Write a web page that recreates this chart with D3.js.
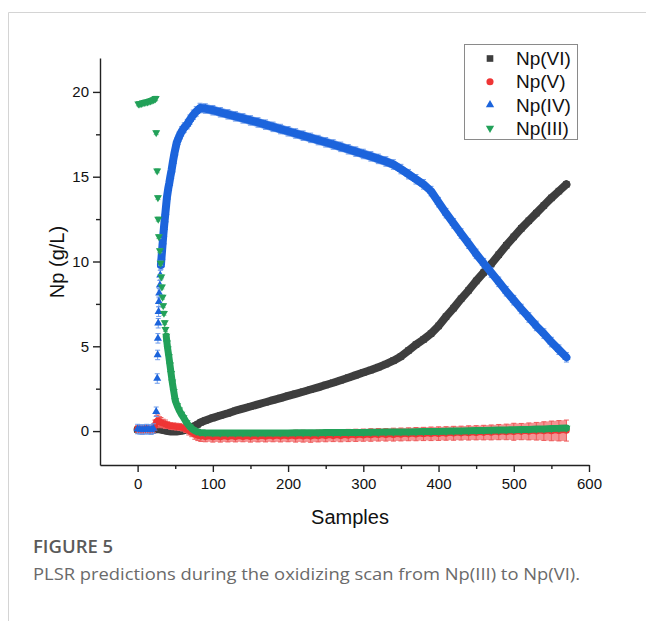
<!DOCTYPE html>
<html>
<head>
<meta charset="utf-8">
<script src="https://cdn.jsdelivr.net/npm/d3@7"></script>
<style>
  body { margin: 0; background: #fff; }
  svg { display: block; }
</style>
</head>
<body>
<svg id="fig" width="646" height="621"></svg>
<script>
// ---------------- data ----------------
const seriesNames = ["Np(VI)", "Np(V)", "Np(IV)", "Np(III)"];
const xTicks = [0, 100, 200, 300, 400, 500, 600];
const xMinorTicks = [50, 150, 250, 350, 450, 550];
const yTicks = [0, 5, 10, 15, 20];
const yMinorTicks = [2.5, 7.5, 12.5, 17.5];

// regular part of the scan (samples 90 .. 570)
const gridSamples = [90, 100, 110, 120, 130, 140, 150, 160, 170, 180,
  190, 200, 210, 220, 230, 240, 250, 260, 270, 280,
  290, 300, 310, 320, 330, 340, 350, 360, 370, 380,
  390, 400, 410, 420, 430, 440, 450, 460, 470, 480,
  490, 500, 510, 520, 530, 540, 550, 560, 570];

// Np(VI)
const viEarlyX = [0, 4, 8, 12, 16, 20, 24, 28, 32, 36, 40, 44, 48, 52, 56, 60, 64, 68, 72, 76, 80, 84];
const viEarlyY = [0.08, 0.1, 0.1, 0.08, 0.06, 0.05, 0.1, 0.12, 0.08, 0.04, 0.0, -0.02, -0.03, -0.02, 0.0, 0.03, 0.08, 0.15, 0.22, 0.3, 0.4, 0.52];
const viGridY = [0.62, 0.78, 0.92, 1.05, 1.2, 1.32, 1.45, 1.58, 1.7, 1.83,
  1.95, 2.08, 2.2, 2.32, 2.45, 2.58, 2.72, 2.85, 3.0, 3.15,
  3.3, 3.45, 3.6, 3.77, 3.95, 4.15, 4.4, 4.75, 5.1, 5.4,
  5.75, 6.2, 6.75, 7.25, 7.8, 8.3, 8.85, 9.35, 9.85, 10.4,
  10.95, 11.45, 11.95, 12.4, 12.85, 13.3, 13.75, 14.15, 14.55];
const viErr = 0.12;

// Np(V)
const vEarlyX = [0, 3, 6, 9, 12, 15, 18, 21, 23, 25, 27, 29, 31, 34, 37, 40, 44, 48, 52, 56, 60, 64, 68, 72, 76, 80, 84];
const vEarlyY = [0.12, 0.1, 0.08, 0.1, 0.12, 0.1, 0.08, 0.15, 0.35, 0.55, 0.6, 0.55, 0.5, 0.45, 0.4, 0.35, 0.3, 0.28, 0.26, 0.24, 0.2, 0.12, 0.02, -0.08, -0.18, -0.26, -0.31];
const vEarlyErr = [0.2, 0.2, 0.2, 0.2, 0.2, 0.2, 0.2, 0.25, 0.3, 0.35, 0.35, 0.3, 0.3, 0.25, 0.25, 0.2, 0.2, 0.2, 0.2, 0.2, 0.2, 0.2, 0.25, 0.25, 0.3, 0.3, 0.3];
const vGridY = [-0.33, -0.35, -0.35, -0.34, -0.34, -0.33, -0.33, -0.32, -0.32, -0.31,
  -0.31, -0.3, -0.3, -0.3, -0.31, -0.29, -0.28, -0.27, -0.27, -0.26,
  -0.25, -0.24, -0.23, -0.22, -0.22, -0.21, -0.2, -0.19, -0.18, -0.17,
  -0.16, -0.15, -0.14, -0.13, -0.12, -0.11, -0.1, -0.09, -0.08, -0.06,
  -0.05, -0.04, -0.03, -0.02, -0.01, 0.0, 0.01, 0.02, 0.03];
const vGridErr = [0.3, 0.3, 0.3, 0.3, 0.3, 0.3, 0.32, 0.32, 0.32, 0.32,
  0.33, 0.33, 0.35, 0.35, 0.35, 0.35, 0.35, 0.35, 0.36, 0.36,
  0.36, 0.36, 0.37, 0.37, 0.37, 0.38, 0.38, 0.38, 0.39, 0.39,
  0.4, 0.4, 0.4, 0.41, 0.41, 0.42, 0.42, 0.43, 0.44, 0.45,
  0.46, 0.5, 0.48, 0.5, 0.52, 0.55, 0.58, 0.6, 0.62];

// Np(IV)
const ivEarlyX = [0, 3, 6, 9, 12, 15, 18, 21,
  24.7, 26.1, 26.6, 27.0, 27.4, 27.9, 28.3, 28.7, 29.6, 30.1, 31.0,
  31.8, 32.6, 33.4, 34.2, 35, 36, 37, 38, 39,
  40.7, 42, 43.5, 45.2, 47, 49, 51.9, 55, 58.5, 62, 66, 69.5, 74, 78, 83];
const ivEarlyY = [0.12, 0.1, 0.08, 0.1, 0.12, 0.1, 0.08, 0.15,
  1.14, 3.1, 4.49, 5.47, 6.36, 7.04, 7.63, 8.13, 8.6, 9.2, 9.8,
  10.25, 10.7, 11.15, 11.6, 12.0, 12.45, 12.9, 13.35, 13.8,
  14.3, 14.6, 15.0, 15.4, 15.9, 16.4, 17.0, 17.35, 17.67, 17.9, 18.1, 18.36, 18.65, 18.85, 19.05];
const ivGridY = [19.02, 18.92, 18.8, 18.68, 18.56, 18.44, 18.32, 18.2, 18.07, 17.94,
  17.81, 17.68, 17.55, 17.42, 17.29, 17.16, 17.03, 16.9, 16.76, 16.62,
  16.48, 16.34, 16.2, 16.05, 15.9, 15.72, 15.45, 15.15, 14.85, 14.55,
  14.15, 13.5, 12.85, 12.25, 11.65, 11.05, 10.45, 9.9, 9.35, 8.8,
  8.25, 7.72, 7.2, 6.7, 6.2, 5.75, 5.25, 4.8, 4.35];
const ivErr = 0.28;

// Np(III)
const iiiEarlyX = [1, 3, 5, 7, 9, 11, 13, 15, 17, 19, 21, 23, 24,
  24.7, 26, 27, 27.4, 28.3, 29.6, 30.6, 31.5, 32.3, 33.2, 34, 35, 36, 37, 38, 39, 40,
  41.5, 43, 44.5, 46, 48, 50, 52.5, 55, 58, 61, 65, 69.5, 74, 78, 83];
const iiiEarlyY = [19.3, 19.3, 19.33, 19.35, 19.38, 19.4, 19.42, 19.45, 19.48, 19.5, 19.55, 19.58, 19.62,
  17.6, 15.35, 13.77, 12.5, 11.47, 10.64, 9.9, 9.1, 8.5, 7.9, 7.4, 6.95, 6.4, 6.0, 5.6, 5.2, 4.85,
  4.4, 3.9, 3.4, 2.9, 2.35, 1.8, 1.5, 1.25, 1.0, 0.8, 0.5, 0.25, 0.08, -0.02, -0.08];
const iiiGridY = [-0.1, -0.11, -0.12, -0.12, -0.12, -0.12, -0.12, -0.12, -0.11, -0.11,
  -0.11, -0.11, -0.1, -0.1, -0.1, -0.1, -0.09, -0.09, -0.09, -0.08,
  -0.08, -0.08, -0.07, -0.07, -0.06, -0.06, -0.05, -0.05, -0.04, -0.03,
  -0.03, -0.02, -0.01, 0.0, 0.01, 0.02, 0.03, 0.04, 0.05, 0.06,
  0.07, 0.08, 0.09, 0.1, 0.12, 0.13, 0.15, 0.16, 0.18];
const iiiErr = 0.12;

// ---------------- build series table ----------------
function constArr(n, v) { return Array.from({ length: n }, () => v); }

const series = [
  { name: seriesNames[0], x: viEarlyX.concat(gridSamples), y: viEarlyY.concat(viGridY),
    err: constArr(viEarlyX.length + gridSamples.length, viErr),
    color: "#3e3e3e", errColor: "#8c8c8c", errFill: "#9a9a9a", shape: "square", bandFrom: 0, band: 8 },
  { name: seriesNames[1], x: vEarlyX.concat(gridSamples), y: vEarlyY.concat(vGridY),
    err: vEarlyErr.concat(vGridErr),
    color: "#ef3535", errColor: "#ee5a5a", errFill: "#f59393", shape: "circle", bandFrom: 0, band: 5 },
  { name: seriesNames[2], x: ivEarlyX.concat(gridSamples), y: ivEarlyY.concat(ivGridY),
    err: constArr(ivEarlyX.length + gridSamples.length, ivErr),
    color: "#1c64dc", errColor: "#6f9cea", errFill: "#7ea7ee", shape: "triUp", bandFrom: 31, band: 8 },
  { name: seriesNames[3], x: iiiEarlyX.concat(gridSamples), y: iiiEarlyY.concat(iiiGridY),
    err: constArr(iiiEarlyX.length + gridSamples.length, iiiErr),
    color: "#22a159", errColor: "#74c596", errFill: "#8fd0aa", shape: "triDown", bandFrom: 38, band: 7 }
];

// ---------------- drawing ----------------
const svg = d3.select("#fig");
const FONT = "'Liberation Sans', Arial, sans-serif";
const CAPTION_FONT = "'Open Sans', 'Noto Sans', sans-serif";

// page frame
svg.append("path")
  .attr("d", "M8.5,621 V12.5 H646")
  .attr("fill", "none").attr("stroke", "#d4d4d4").attr("stroke-width", 1);

const x = d3.scaleLinear().domain([-50, 600]).range([100, 589]);
const y = d3.scaleLinear().domain([-2, 22]).range([465, 58]);

const symbols = {
  square: d3.symbol().type(d3.symbolSquare).size(42),
  circle: d3.symbol().type(d3.symbolCircle).size(34),
  triUp: d3.symbol().type(d3.symbolTriangle).size(28),
  triDown: d3.symbol().type(d3.symbolTriangle).size(28)
};

const plot = svg.append("g");

series.forEach(s => {
  const pts = s.x.map((v, i) => ({ x: v, y: s.y[i], e: s.err[i] }));
  const bandPts = pts.filter(p => p.x >= s.bandFrom);
  const g = plot.append("g");

  // spread of the dense run (overlapping error bars)
  g.append("path")
    .datum(bandPts)
    .attr("d", d3.area().x(p => x(p.x)).y0(p => y(p.y - p.e)).y1(p => y(p.y + p.e)))
    .attr("fill", s.errFill)
    .attr("stroke", "none");

  // error bars
  const eb = g.append("g").attr("stroke", s.errColor).attr("stroke-width", 1);
  pts.forEach(p => {
    const cx = x(p.x), y0 = y(p.y - p.e), y1 = y(p.y + p.e);
    eb.append("line").attr("x1", cx).attr("x2", cx).attr("y1", y0).attr("y2", y1);
    eb.append("line").attr("x1", cx - 2.5).attr("x2", cx + 2.5).attr("y1", y0).attr("y2", y0);
    eb.append("line").attr("x1", cx - 2.5).attr("x2", cx + 2.5).attr("y1", y1).attr("y2", y1);
  });

  // dense run of samples shown as a continuous band
  g.append("path")
    .datum(bandPts)
    .attr("d", d3.line().x(p => x(p.x)).y(p => y(p.y)))
    .attr("fill", "none")
    .attr("stroke", s.color)
    .attr("stroke-width", s.band)
    .attr("stroke-linejoin", "round")
    .attr("stroke-linecap", "round");

  // markers
  g.selectAll("path.m").data(pts).join("path")
    .attr("class", "m")
    .attr("d", symbols[s.shape]())
    .attr("transform", p => `translate(${x(p.x)},${y(p.y)})` + (s.shape === "triDown" ? " rotate(180)" : ""))
    .attr("fill", s.color);
});

// axes
function styleAxis(g) {
  g.selectAll(".domain").attr("stroke", "#222").attr("stroke-width", 1.4);
  g.selectAll(".tick line").attr("stroke", "#222").attr("stroke-width", 1.4);
  g.selectAll(".tick text").attr("font-family", FONT).attr("font-size", 15).attr("fill", "#111");
}

const gx = svg.append("g").attr("transform", "translate(0,465)")
  .call(d3.axisBottom(x).tickValues(xTicks).tickSize(7).tickSizeOuter(0).tickPadding(6).tickFormat(d3.format("d")));
styleAxis(gx);
const gxm = svg.append("g").attr("transform", "translate(0,465)")
  .call(d3.axisBottom(x).tickValues(xMinorTicks).tickSize(4).tickFormat(""));
gxm.select(".domain").remove();
styleAxis(gxm);

const gy = svg.append("g").attr("transform", "translate(100,0)")
  .call(d3.axisLeft(y).tickValues(yTicks).tickSize(7).tickSizeOuter(0).tickPadding(4).tickFormat(d3.format("d")));
styleAxis(gy);
const gym = svg.append("g").attr("transform", "translate(100,0)")
  .call(d3.axisLeft(y).tickValues(yMinorTicks).tickSize(4).tickFormat(""));
gym.select(".domain").remove();
styleAxis(gym);

// axis titles
svg.append("text")
  .attr("x", 350).attr("y", 524)
  .attr("text-anchor", "middle")
  .attr("font-family", FONT).attr("font-size", 20).attr("fill", "#111")
  .text("Samples");
svg.append("text")
  .attr("transform", "translate(57,262) rotate(-90)")
  .attr("text-anchor", "middle")
  .attr("dy", "0.35em")
  .attr("font-family", FONT).attr("font-size", 20).attr("fill", "#111")
  .text("Np (g/L)");

// legend
const legend = svg.append("g");
legend.append("rect")
  .attr("x", 464.5).attr("y", 44.5).attr("width", 113).attr("height", 95)
  .attr("fill", "#fff").attr("stroke", "#8a8a8a").attr("stroke-width", 1);
const legendSymbols = {
  square: d3.symbol().type(d3.symbolSquare).size(44),
  circle: d3.symbol().type(d3.symbolCircle).size(40),
  triUp: d3.symbol().type(d3.symbolTriangle).size(30),
  triDown: d3.symbol().type(d3.symbolTriangle).size(30)
};
series.forEach((s, i) => {
  const cy = 58.5 + i * 23.2;
  legend.append("path")
    .attr("d", legendSymbols[s.shape]())
    .attr("transform", `translate(490,${cy})` + (s.shape === "triDown" ? " rotate(180)" : ""))
    .attr("fill", s.color);
  legend.append("text")
    .attr("x", 516).attr("y", cy)
    .attr("dy", "0.35em")
    .attr("font-family", FONT).attr("font-size", 19).attr("fill", "#111")
    .text(s.name);
});

// caption
svg.append("text")
  .attr("x", 33).attr("y", 553)
  .attr("font-family", CAPTION_FONT)
  .attr("font-size", 18.5).attr("font-weight", 600).attr("fill", "#5a5a5a")
  .text("FIGURE 5");
svg.append("text")
  .attr("x", 33).attr("y", 580)
  .attr("font-family", CAPTION_FONT)
  .attr("font-size", 17).attr("fill", "#6a6a6a")
  .attr("textLength", 547).attr("lengthAdjust", "spacingAndGlyphs")
  .text("PLSR predictions during the oxidizing scan from Np(III) to Np(VI).");
</script>
</body>
</html>
